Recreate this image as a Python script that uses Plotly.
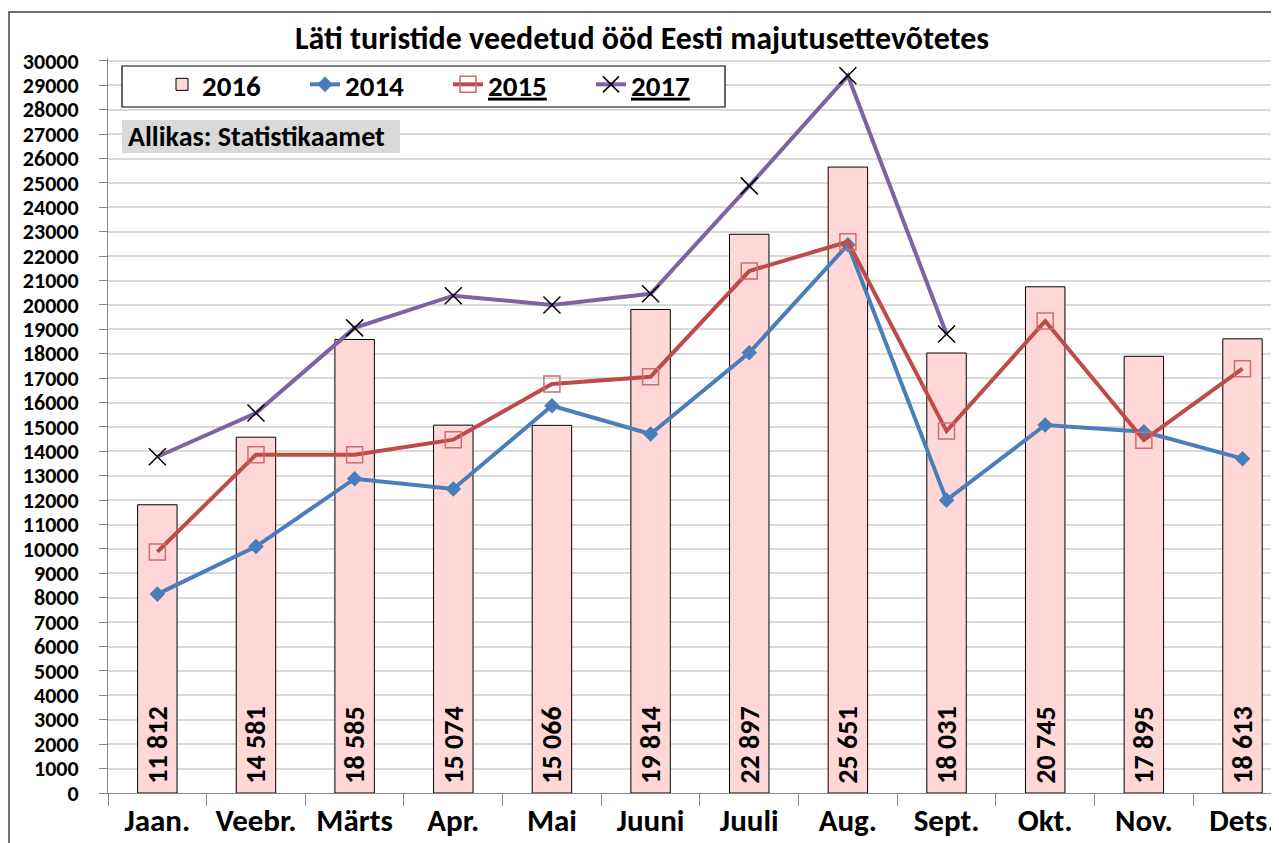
import plotly.graph_objects as go

months = ["Jaan.", "Veebr.", "Märts", "Apr.", "Mai", "Juuni", "Juuli", "Aug.", "Sept.", "Okt.", "Nov.", "Dets."]
y2016 = [11812, 14581, 18585, 15074, 15066, 19814, 22897, 25651, 18031, 20745, 17895, 18613]
y2014 = [8150, 10100, 12880, 12460, 15870, 14710, 18040, 22470, 12000, 15080, 14800, 13700]
y2015 = [9880, 13860, 13860, 14480, 16760, 17060, 21390, 22590, 14830, 19340, 14460, 17390]
y2017 = [13780, 15570, 19060, 20380, 20000, 20460, 24880, 29390, 18810, None, None, None]

FONT = "Carlito, 'Liberation Sans Narrow', 'DejaVu Sans Condensed', 'Open Sans', sans-serif"

labels2016 = ["\u00a0" + f"{v:,}".replace(",", " ") for v in y2016]

# page is offset by the 8px body margin -> figure is 1271x835
W, H = 1271, 835
L, T, B = 100, 50, 50
PW, PH = W - L, H - T - B


def px(xf):
    return (xf - L) / PW


def py(yf):
    return (H - B - yf) / PH


fig = go.Figure()
fig.add_trace(go.Bar(
    x=months, y=y2016, name="<b>2016</b>", width=0.4,
    marker=dict(color="#ffd7d7", line=dict(color="black", width=1)),
    text=labels2016, textposition="inside", insidetextanchor="start", textangle=-90,
    textfont=dict(family=FONT, size=28, color="black", weight="bold"),
    constraintext="none", cliponaxis=False,
))
fig.add_trace(go.Scatter(
    x=months, y=y2014, name="<b>2014</b>", mode="lines+markers",
    line=dict(color="#4a7ebb", width=4),
    marker=dict(symbol="diamond", size=12, color="#4a7ebb"),
))
fig.add_trace(go.Scatter(
    x=months, y=y2015, name="<b><u>2015</u></b>", mode="lines+markers",
    line=dict(color="#be4b48", width=4),
    marker=dict(symbol="square-open", size=16, color="#d46a6a", line=dict(width=1.5, color="#d46a6a")),
))
fig.add_trace(go.Scatter(
    x=months, y=y2017, name="<b><u>2017</u></b>", mode="lines+markers",
    line=dict(color="#7e62a1", width=4),
    marker=dict(symbol="x-thin-open", size=17, color="black", line=dict(width=1.5, color="black")),
))

fig.update_layout(
    width=W, height=H,
    margin=dict(l=L, r=0, t=T, b=B),
    paper_bgcolor="white", plot_bgcolor="white",
    font=dict(family=FONT, color="black"),
    title=dict(text="<b>Läti turistide veedetud ööd Eesti majutusettevõtetes</b>",
               x=634 / W, xref="container", xanchor="center",
               y=1 - 30 / H, yref="container", yanchor="middle",
               font=dict(family=FONT, size=32, color="black")),
    showlegend=True,
    legend=dict(orientation="h", x=px(154), y=py(51), xanchor="left", yanchor="top",
                bgcolor="rgba(0,0,0,0)", borderwidth=0,
                font=dict(family=FONT, size=29, color="black"),
                entrywidth=98, entrywidthmode="pixels", traceorder="normal"),
)
fig.update_xaxes(
    type="category", range=[-0.5, 11.37],
    showline=True, linecolor="#868686", linewidth=1,
    ticks="outside", tickson="boundaries", ticklen=12, tickcolor="#868686",
    tickfont=dict(family=FONT, size=31, color="black", weight="bold"),
    showgrid=False,
)
fig.update_yaxes(
    range=[0, 30120], dtick=1000, tickformat="d",
    showline=True, linecolor="#868686", linewidth=1,
    ticks="outside", ticklen=8, tickcolor="#868686", ticklabelstandoff=16,
    tickfont=dict(family=FONT, size=22, color="black", weight="bold"),
    showgrid=True, gridcolor="#d9d9d9", gridwidth=1.5,
    zeroline=False,
)
# legend box
fig.add_shape(type="rect", xref="paper", yref="paper",
              x0=px(114), x1=px(717), y0=py(99), y1=py(58),
              line=dict(color="black", width=1.2), fillcolor="white", layer="above")
# source box
fig.add_shape(type="rect", xref="paper", yref="paper",
              x0=px(114), x1=px(392), y0=py(145), y1=py(112),
              line=dict(width=0), fillcolor="#d9d9d9", layer="above")
fig.add_annotation(
    text="<b>Allikas: Statistikaamet</b>", xref="paper", yref="paper",
    x=px(118), y=py(128.5), xanchor="left", yanchor="middle", showarrow=False,
    align="left", font=dict(family=FONT, size=28, color="black"),
)
# outer chart frame
fig.add_shape(type="rect", xref="paper", yref="paper",
              x0=px(1), x1=1.05, y0=-0.2, y1=py(4),
              line=dict(color="#404040", width=1.5), fillcolor="rgba(0,0,0,0)", layer="below")

fig.write_html("out.html")
